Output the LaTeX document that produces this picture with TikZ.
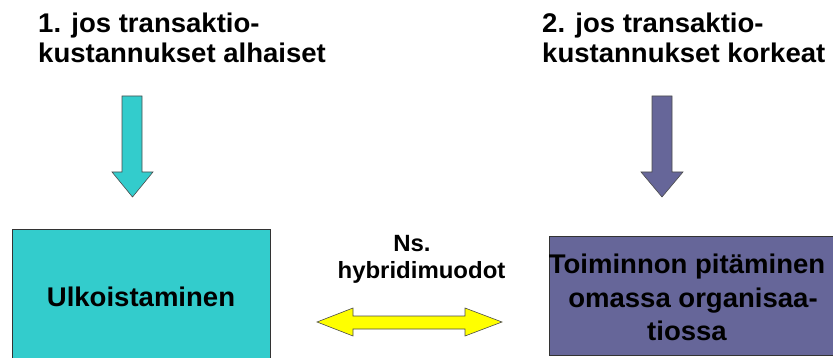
\documentclass[tikz,border=0pt]{standalone}
\usepackage{fontspec}
\setmainfont{Liberation Sans}[FakeStretch=1.02]
\definecolor{cyanbox}{HTML}{33CCCC}
\definecolor{purplebox}{HTML}{666699}
\definecolor{yellowarrow}{HTML}{FFFF00}
\begin{document}
\begin{tikzpicture}[x=1pt,y=-1pt,
  lbl/.style={inner sep=0pt,anchor=base,font=\fontsize{27}{30}\selectfont\bfseries},
  lbls/.style={inner sep=0pt,anchor=base,font=\fontsize{23.5}{27}\selectfont\bfseries},
  lblw/.style={lbl,anchor=base west},
  boxline/.style={draw=black!80,line width=0.8pt},
  arrowline/.style={draw=black!70,line width=0.6pt,line join=miter}]
\useasboundingbox (0,0) rectangle (833,358);
\clip (0,0) rectangle (833,358);
% boxes
\node[boxline,fill=cyanbox,minimum width=258pt,minimum height=141pt,inner sep=0pt] (L) at (141,299.5) {};
\node[boxline,fill=purplebox,minimum width=300pt,minimum height=119pt,inner sep=0pt] (R) at (699,295.5) {};
% down arrows
\draw[arrowline,fill=cyanbox] (122,96) -- (142,96) -- (142,172) -- (153,172) -- (132.5,197) -- (112,172) -- (122,172) -- cycle;
\draw[arrowline,fill=purplebox] (652,96) -- (672,96) -- (672,172) -- (683,172) -- (662,197) -- (641,172) -- (652,172) -- cycle;
% double arrow
\draw[arrowline,fill=yellowarrow] (317,322) -- (353,308) -- (353,316) -- (465,316) -- (465,308) -- (502,322) -- (465,336) -- (465,329) -- (353,329) -- (353,336) -- cycle;
% texts
\node[lblw] (t1a) at (38,33) {1. jos transaktio-};
\node[lblw] (t1b) at (38,63) {kustannukset alhaiset};
\node[lblw] (t2a) at (542,33) {2. jos transaktio-};
\node[lblw] (t2b) at (542,63) {kustannukset korkeat};
\node[lbls] (ns) at (412,252) {Ns.};
\node[lbls] (hy) at (421.5,279) {hybridimuodot};
\node[lbl] (ul) at (141,306) {Ulkoistaminen};
\node[lbl] (r1) at (687,273) {Toiminnon pitäminen};
\node[lbl] (r2) at (693,307) {omassa organisaa-};
\node[lbl] (r3) at (687,340) {tiossa};
\end{tikzpicture}
\end{document}
